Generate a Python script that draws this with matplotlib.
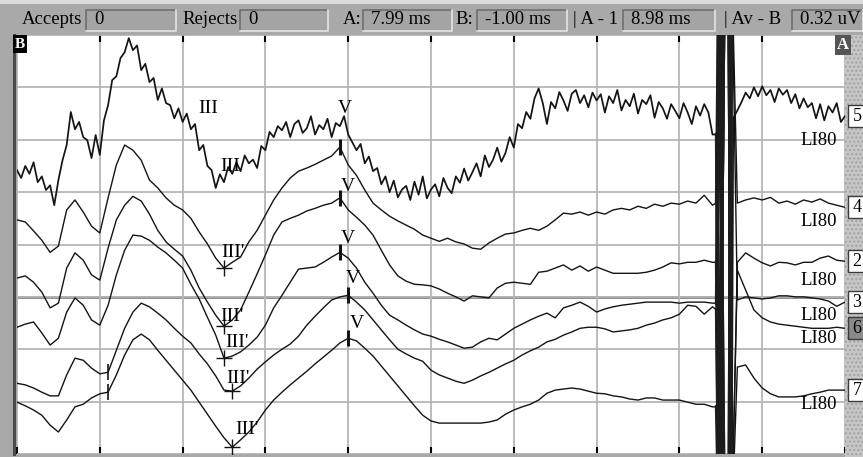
import numpy as np
import matplotlib.pyplot as plt
import matplotlib.transforms as mtransforms
from matplotlib.patches import Rectangle
from matplotlib.lines import Line2D

plt.rcParams['font.family'] = ['Liberation Serif', 'DejaVu Serif']

nan = np.nan

# sweep runs -1 .. 9 ms, amplitudes in screen divisions (0 = bottom, 8 = top)
# channel 5 is sampled every 0.05 ms, the others every 0.1 ms;
# nan marks samples inside the stimulus artefact (see artefact lists below)
ch5 = [5.42, 5.27, 5.50, 5.35, 5.57, 5.19, 5.30, 5.04, 5.13, 4.75,
       5.23, 5.61, 5.90, 6.53, 6.20, 6.34, 6.05, 5.99, 5.65, 6.09,
       5.71, 6.37, 6.66, 7.14, 7.21, 7.56, 7.67, 7.94, 7.71, 7.80,
       7.33, 7.45, 7.10, 7.18, 6.76, 6.98, 6.70, 6.66, 6.41, 6.60,
       6.34, 6.50, 6.20, 6.30, 5.80, 5.90, 5.50, 5.42, 5.08, 5.34,
       5.19, 5.48, 5.35, 5.57, 5.40, 5.70, 5.55, 5.62, 5.46, 5.88,
       5.80, 6.15, 6.05, 6.26, 6.18, 6.34, 6.05, 6.30, 6.37, 6.13,
       6.22, 6.45, 6.10, 6.28, 6.20, 6.40, 6.05, 6.32, 6.26, 6.45,
       6.10, 5.95, 5.80, 5.92, 5.55, 5.68, 5.40, 5.46, 5.15, 5.30,
       5.00, 5.22, 4.90, 5.05, 5.12, 4.85, 5.20, 4.95, 5.30, 4.88,
       5.05, 5.15, 4.92, 5.27, 5.08, 4.98, 5.30, 5.18, 5.45, 5.22,
       5.38, 5.55, 5.30, 5.70, 5.48, 5.62, 5.85, 5.58, 5.75, 6.05,
       5.85, 6.30, 6.22, 6.53, 6.40, 6.79, 6.98, 6.70, 6.30, 6.72,
       6.60, 6.91, 6.75, 6.55, 6.88, 6.95, 6.70, 6.85, 6.62, 6.90,
       6.75, 6.87, 6.52, 6.83, 6.70, 6.95, 6.56, 6.76, 6.64, 6.88,
       6.50, 6.76, 6.68, 6.85, 6.42, 6.72, 6.60, 6.40, 6.68, 6.55,
       6.41, 6.70, 6.52, 6.30, 6.64, 6.46, 6.68, 6.52, 6.10, nan,
       nan, nan, nan, 6.41, 6.56, 6.72, 6.90, 6.79, 7.00, 6.83,
       7.02, 6.85, 6.95, 6.72, 6.98, 6.86, 6.95, 6.70, 6.87, 6.60,
       6.79, 6.62, 6.70, 6.41, 6.68, 6.37, 6.64, 6.52, 6.70, 6.34,
       6.45]

ch4 = [4.47, 4.43, 4.26, 4.08, 3.85, 3.97, 4.66, 4.85, 4.62, 4.35,
       4.22, 4.89, 5.52, 5.90, 5.80, 5.61, 5.23, 5.08, 4.89, 4.75,
       4.66, 4.50, 4.24, 4.01, 3.74, 3.55, 3.66, 3.76, 4.05, 4.27,
       4.56, 4.85, 5.08, 5.27, 5.40, 5.46, 5.53, 5.61, 5.69, 5.86,
       5.52, 5.32, 5.04, 4.79, 4.66, 4.54, 4.45, 4.37, 4.29, 4.18,
       4.12, 4.06, 4.12, 4.05, 4.01, 3.93, 3.91, 4.03, 4.12, 4.20,
       4.22, 4.27, 4.31, 4.27, 4.35, 4.47, 4.60, 4.58, 4.62, 4.56,
       4.62, 4.58, 4.66, 4.69, 4.66, 4.73, 4.69, 4.77, 4.73, 4.79,
       4.77, 4.83, 4.79, 4.94, 4.75, nan, nan, 4.79, 4.85, 4.89,
       4.85, 4.90, 4.79, 4.83, 4.77, 4.85, 4.81, 4.87, 4.79, 4.75,
       4.71]

ch2 = [3.36, 3.40, 3.28, 3.09, 2.79, 2.88, 3.55, 3.84, 3.70, 3.42,
       3.32, 3.93, 4.47, 4.75, 4.92, 4.83, 4.58, 4.27, 4.05, 3.91,
       3.78, 3.51, 3.17, 2.90, 2.65, 2.44, 2.56, 2.75, 3.09, 3.44,
       3.80, 4.18, 4.43, 4.50, 4.56, 4.64, 4.69, 4.75, 4.79, 4.89,
       4.66, 4.52, 4.37, 4.18, 3.89, 3.61, 3.40, 3.30, 3.24, 3.23,
       3.21, 3.15, 3.07, 3.00, 2.92, 3.02, 3.00, 2.98, 3.17, 3.26,
       3.28, 3.26, 3.24, 3.47, 3.49, 3.55, 3.61, 3.51, 3.59, 3.49,
       3.57, 3.51, 3.45, 3.45, 3.45, 3.45, 3.47, 3.51, 3.57, 3.65,
       3.63, 3.66, 3.66, 3.70, 3.66, nan, nan, 3.66, 3.84, 3.74,
       3.65, 3.59, 3.66, 3.65, 3.61, 3.66, 3.66, 3.74, 3.78, 3.70,
       3.68]

ch3 = [2.42, 2.48, 2.52, 2.31, 2.08, 2.21, 2.71, 2.98, 2.84, 2.56,
       2.46, 2.84, 3.42, 3.89, 4.18, 4.16, 4.08, 3.95, 3.84, 3.70,
       3.55, 3.24, 2.96, 2.61, 2.27, 1.83, 1.87, 1.95, 2.08, 2.23,
       2.46, 2.79, 3.03, 3.28, 3.53, 3.55, 3.57, 3.66, 3.76, 3.85,
       3.74, 3.55, 3.28, 3.07, 2.84, 2.65, 2.56, 2.46, 2.37, 2.29,
       2.25, 2.19, 2.14, 2.08, 2.02, 2.04, 2.14, 2.21, 2.18, 2.29,
       2.40, 2.48, 2.56, 2.63, 2.69, 2.60, 2.79, 2.84, 2.90, 2.82,
       2.71, 2.77, 2.81, 2.84, 2.86, 2.88, 2.90, 2.90, 2.90, 2.90,
       2.88, 2.90, 2.90, 2.90, 2.88, nan, nan, 2.94, 3.00, 2.98,
       2.96, 2.98, 3.02, 3.02, 3.00, 3.00, 2.98, 2.96, 2.92, 2.82,
       2.90]

ch6 = [1.35, 1.32, 1.26, 1.18, 1.11, 1.11, 1.51, 1.83, 1.79, 1.64,
       1.53, 1.56, 1.98, 2.40, 2.71, 2.88, 2.81, 2.69, 2.56, 2.40,
       2.25, 2.12, 1.91, 1.72, 1.49, 1.22, 1.20, 1.30, 1.45, 1.62,
       1.76, 1.89, 2.00, 2.10, 2.25, 2.46, 2.63, 2.79, 2.94, 3.00,
       3.03, 2.90, 2.75, 2.56, 2.37, 2.18, 2.00, 1.91, 1.83, 1.77,
       1.60, 1.51, 1.45, 1.39, 1.35, 1.41, 1.49, 1.56, 1.64, 1.72,
       1.79, 1.89, 1.97, 2.04, 2.14, 2.19, 2.27, 2.33, 2.40, 2.42,
       2.42, 2.39, 2.33, 2.35, 2.37, 2.40, 2.46, 2.50, 2.56, 2.60,
       2.67, 2.84, 2.82, 2.67, 2.81, nan, nan, 3.51, 3.13, 2.75,
       2.60, 2.52, 2.48, 2.46, 2.44, 2.42, 2.40, 2.40, 2.40, 2.42,
       2.40]

ch7 = [0.99, 0.92, 0.84, 0.74, 0.55, 0.42, 0.65, 0.90, 0.95, 1.07,
       1.15, 1.18, 1.51, 1.89, 2.18, 2.29, 2.18, 1.98, 1.79, 1.60,
       1.41, 1.22, 0.99, 0.76, 0.53, 0.31, 0.13, 0.27, 0.42, 0.61,
       0.84, 1.03, 1.18, 1.32, 1.45, 1.58, 1.72, 1.85, 1.98, 2.12,
       2.21, 2.16, 2.02, 1.87, 1.68, 1.49, 1.30, 1.11, 0.92, 0.74,
       0.63, 0.59, 0.59, 0.59, 0.59, 0.59, 0.59, 0.61, 0.65, 0.76,
       0.84, 0.90, 0.95, 1.03, 1.16, 1.22, 1.24, 1.26, 1.24, 1.20,
       1.16, 1.15, 1.11, 1.09, 1.05, 1.03, 1.07, 1.07, 1.03, 1.03,
       1.03, 0.99, 0.95, 0.95, 0.90, nan, nan, 1.66, 1.70, 1.45,
       1.26, 1.15, 1.09, 1.09, 1.09, 1.11, 1.15, 1.18, 1.22, 1.22,
       1.22]

# stimulus artefact: every channel swings off screen and back
art_t = [7.45, 7.48, 7.54, 7.60, 7.63]
art5 = [6.10, -1.5, 9.5, 9.5, -1.5]
art4 = [4.80, 9.5, -1.5, -1.5, 9.5]
art2 = [3.66, -1.5, 9.5, 9.5, -1.5]
art3 = [2.88, 9.5, -1.5, -1.5, 9.5]
art6 = [2.75, -1.5, 9.5, 9.5, -1.5]
art7 = [0.90, -1.5, 9.5, 9.5, -1.5]

channel_names = ['5', '4', '2', '3', '6', '7']
channel_data = [ch5, ch4, ch2, ch3, ch6, ch7]
channel_art = [art5, art4, art2, art3, art6, art7]
li80_y = [5.99, 4.43, 3.32, 2.65, 2.21, 0.94]

# sample index of the III' trough and V peak on each smooth channel
iii_idx = {'4': 25, '2': 25, '3': 25, '6': 26, '7': 26}
v_idx = {'4': 39, '2': 39, '3': 39, '6': 40, '7': 40}
wave1_idx = {'6': 11, '7': 11}

wave_labels = [("III", 1.31, 6.60), ("III", 1.57, 5.48),
               ("V", 2.96, 6.60), ("V", 2.99, 5.10), ("V", 3.00, 4.12),
               ("V", 3.06, 3.36), ("V", 3.11, 2.50),
               ("III'", 1.61, 3.84), ("III'", 1.60, 2.62), ("III'", 1.66, 2.12),
               ("III'", 1.67, 1.45), ("III'", 1.78, 0.46)]

header = [("Accepts", "0"), ("Rejects", "0"), ("A:", "7.99 ms"), ("B:", "-1.00 ms"),
          ("| A - 1", "8.98 ms"), ("| Av - B", "0.32 uV")]

W, H = 863, 457
fig = plt.figure(figsize=(W / 100, H / 100), dpi=100)
fig.patch.set_facecolor('#a9a9a9')


def fx(px):
    return px / W


def fy(py):
    return 1 - py / H


# --- toolbar ---
fig.patches.append(Rectangle((0, fy(4)), 1, 4 / H, transform=fig.transFigure,
                             fc='#dcdcdc', ec='none'))
label_x = [22, 182, 343, 455, 573, 724]
box_x = [(86, 176), (240, 328), (363, 452), (477, 567), (623, 715), (792, 863)]
for (name, val), lx, (b0, b1) in zip(header, label_x, box_x):
    fig.text(fx(lx), fy(20), name, fontsize=13.5, va='center', ha='left')
    fig.patches.append(Rectangle((fx(b0), fy(31)), fx(b1 - b0), 21 / H,
                                 transform=fig.transFigure, fc='#a4a4a4',
                                 ec='none'))
    fig.lines.append(Line2D([fx(b0), fx(b0), fx(b1)], [fy(31), fy(10), fy(10)],
                            transform=fig.transFigure, color='#6e6e6e', lw=1.2))
    fig.lines.append(Line2D([fx(b0), fx(b1), fx(b1)], [fy(31), fy(31), fy(10)],
                            transform=fig.transFigure, color='#e4e4e4', lw=1.2))
    fig.text(fx(b0 + 8), fy(20), val, fontsize=13.5, va='center', ha='left')

# --- right channel strip ---
fig.patches.append(Rectangle((fx(845), 0), fx(18), fy(35), transform=fig.transFigure,
                             fc='#c6c6c6', ec='#a2a2a2', hatch='....', lw=0))
fig.lines.append(Line2D([fx(14), fx(14)], [fy(454), fy(35)], transform=fig.transFigure,
                        color='#4a4a4a', lw=2.2))

# --- sweep display ---
ax = fig.add_axes([fx(17), fy(454), fx(828), fy(35) - fy(454)])
ax.set_facecolor('white')
ax.set_xlim(-1, 9)
ax.set_ylim(0, 8)
ax.set_xticks(np.arange(-1, 9.5, 1))
ax.set_yticks(np.arange(0, 8.5, 1))
ax.grid(True, color='#b6b6b6', lw=1.3)
ax.tick_params(axis='x', direction='in', length=5, width=1.5, color='black',
               top=True, bottom=True, labelbottom=False)
ax.tick_params(axis='y', left=False, labelleft=False)
for s in ax.spines.values():
    s.set_visible(False)
ax.axhline(3, color='#6c6c6c', lw=1.8, zorder=1.5)

t_fine = -1 + 0.05 * np.arange(len(ch5))
t = -1 + 0.1 * np.arange(len(ch4))

for name, data, art in zip(channel_names, channel_data, channel_art):
    tt = t_fine if name == '5' else t
    vv = np.array(data, dtype=float)
    keep = ~np.isnan(vv)
    ts = np.concatenate([tt[keep], art_t])
    vs = np.concatenate([vv[keep], art])
    order = np.argsort(ts, kind='stable')
    ts, vs = ts[order], vs[order]
    ax.plot(ts, vs, color='#141414', lw=1.25 if name == '5' else 1.0, zorder=3)
    # the saturated swing is drawn heavier, as on the recorder screen
    seg = (ts >= art_t[0]) & (ts <= art_t[-1])
    ax.plot(ts[seg], vs[seg], color='#1c1c1c', lw=2.6, zorder=3)

for name, data in zip(channel_names[1:], channel_data[1:]):
    i = iii_idx[name]
    ax.plot(t[i], data[i], marker='+', ms=11, mew=1.0, color='#141414', zorder=4)
    j = v_idx[name]
    ax.plot(t[j], data[j], marker='|', ms=11, mew=2.2, color='#141414', zorder=4)
    if name in wave1_idx:
        k = wave1_idx[name]
        ax.plot(t[k], data[k], marker='|', ms=11, mew=1.2, color='#141414', zorder=4)

for txt, x, y in wave_labels:
    ax.text(x, y, txt, fontsize=14, ha='center', va='center', zorder=5)

for y in li80_y:
    ax.text(8.9, y, 'LI80', fontsize=13.5, ha='right', va='center', zorder=5)

# channel number boxes sit at each channel's end level
strip = mtransforms.blended_transform_factory(fig.transFigure, ax.transData)
for name, data in zip(channel_names, channel_data):
    yv = data[-1]
    fig.patches.append(Rectangle((fx(848), yv - 0.21), fx(16), 0.42, transform=strip,
                                 fc='#8a8a8a' if name == '6' else 'white',
                                 ec='#3c3c3c', lw=1.0))
    fig.text(fx(857), yv, name, transform=strip, fontsize=13, ha='center', va='center')

# A / B cursor tags
fig.text(fx(20), fy(44), 'B', color='white', fontsize=11, fontweight='bold',
         ha='center', va='center', bbox=dict(fc='black', ec='none', pad=1.5))
fig.text(fx(843), fy(45), 'A', color='white', fontsize=12, fontweight='bold',
         ha='center', va='center', bbox=dict(fc='#555555', ec='none', pad=1.5))

fig.savefig('out.png', dpi=100, facecolor=fig.get_facecolor())
